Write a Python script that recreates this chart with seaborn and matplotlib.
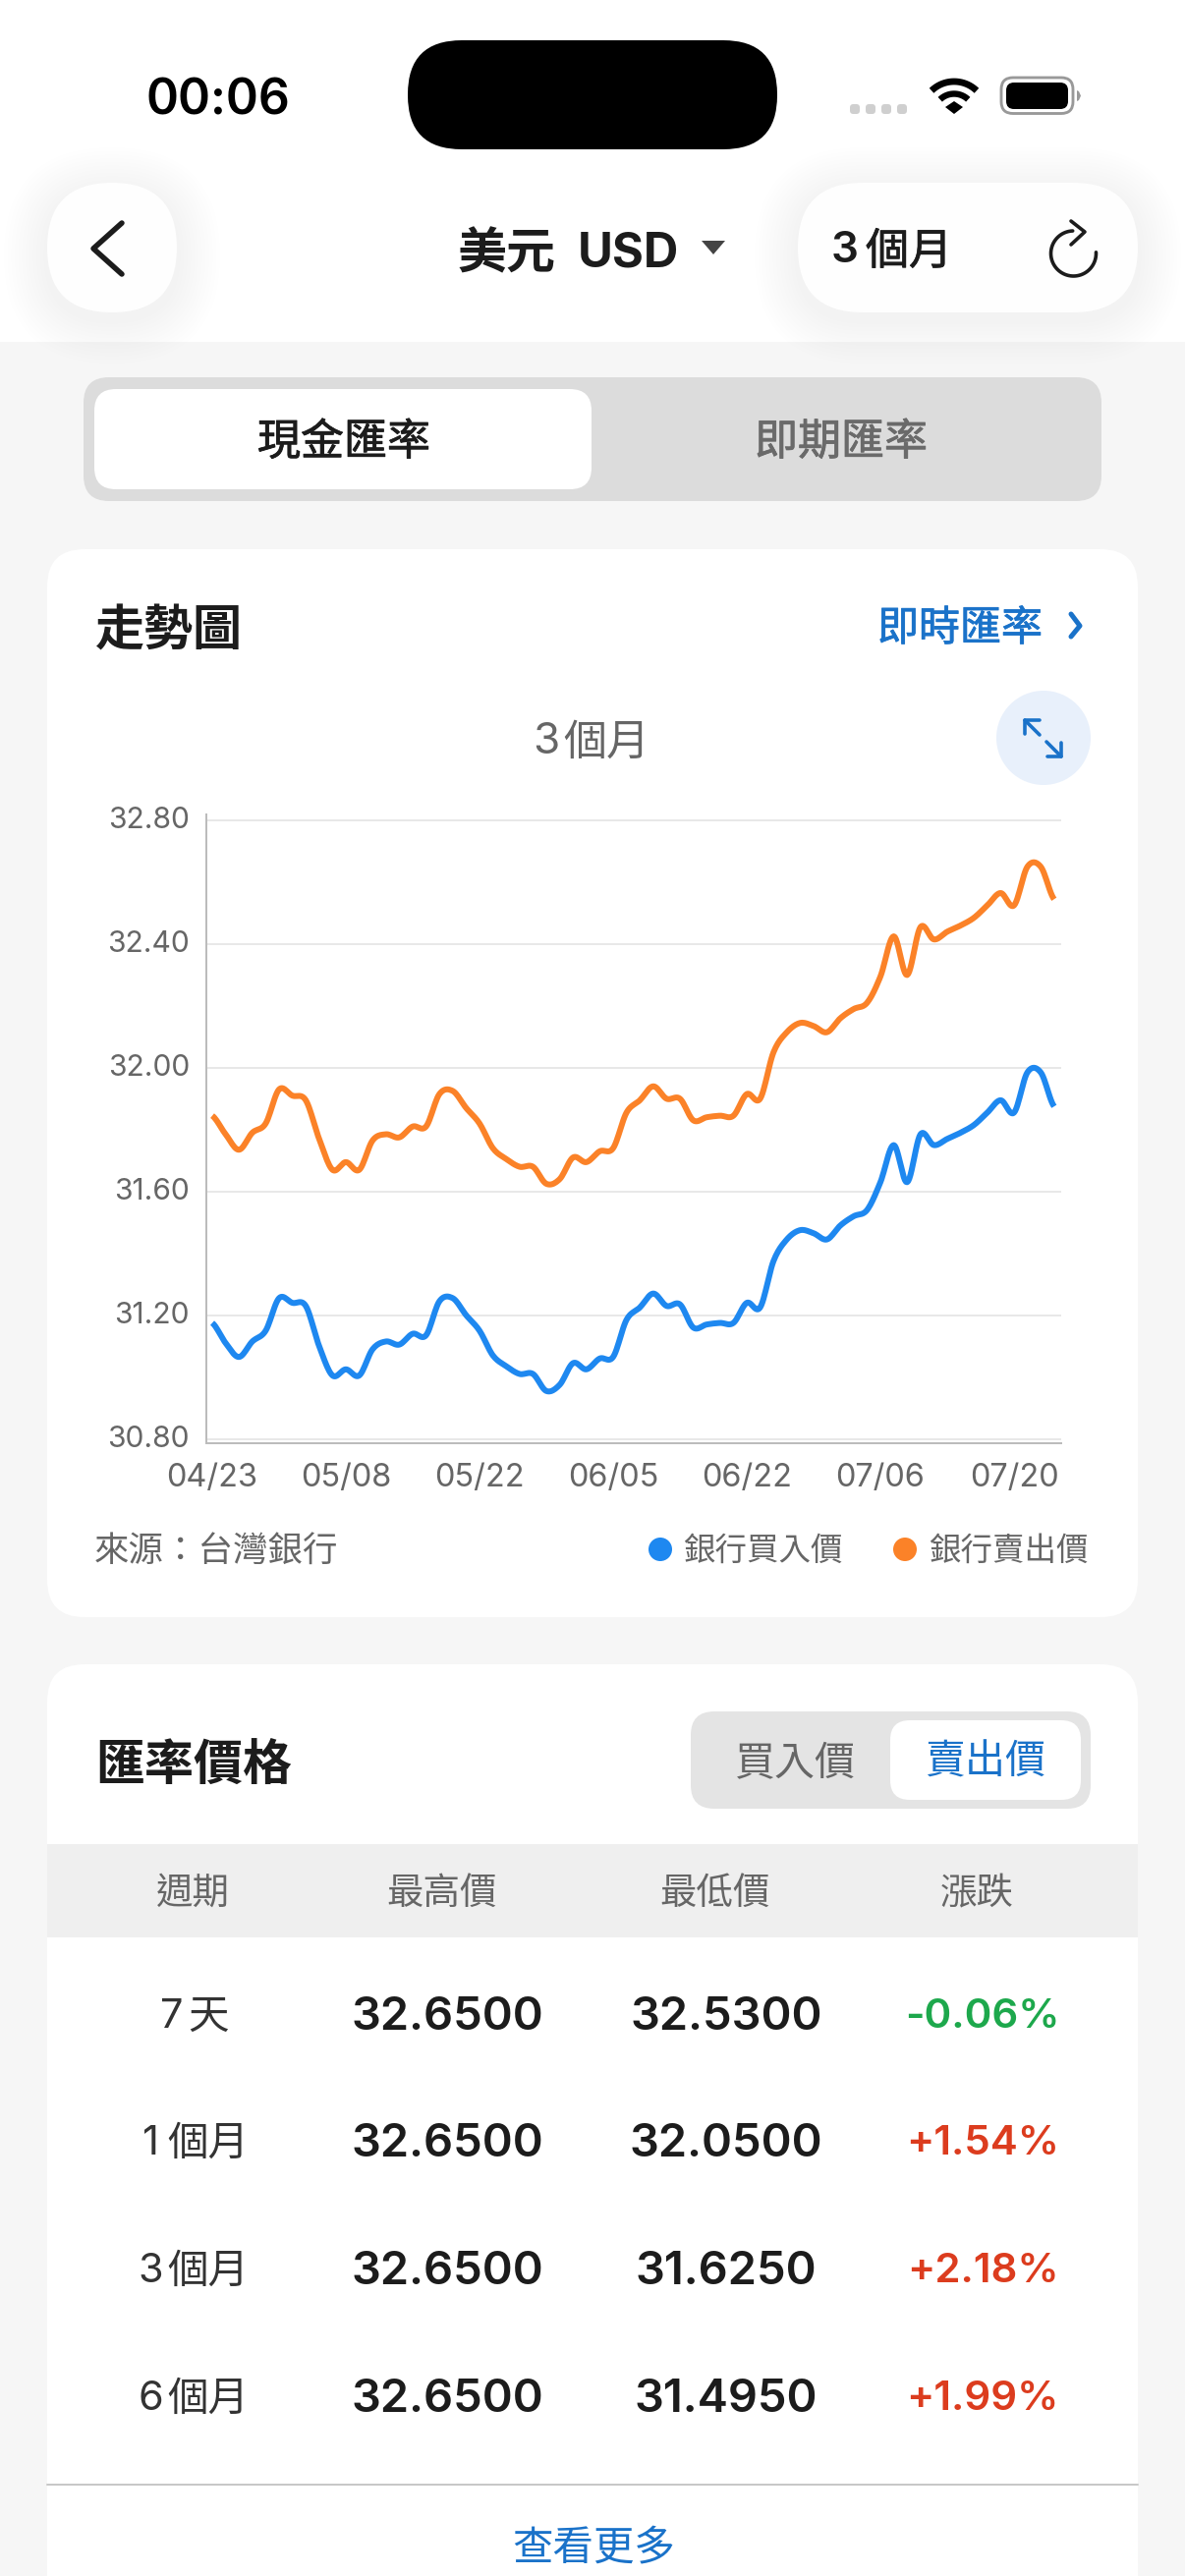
import numpy as np
import pandas as pd
import matplotlib
matplotlib.use("Agg")
import matplotlib.pyplot as plt
import matplotlib.patheffects as pe
from matplotlib.patches import FancyBboxPatch, Circle, Polygon, Rectangle
from matplotlib.ticker import FixedLocator, FixedFormatter
from matplotlib.transforms import ScaledTranslation
import seaborn as sns

# ---- data ----
buy_rate = [31.175, 31.11, 31.065, 31.115, 31.15, 31.255, 31.24, 31.23, 31.10, 31.005, 31.025, 31.005,
            31.09, 31.115, 31.105, 31.14, 31.135, 31.245, 31.255, 31.20, 31.15, 31.07, 31.035, 31.01,
            31.01, 30.955, 30.975, 31.045, 31.025, 31.06, 31.065, 31.185, 31.225, 31.27, 31.23, 31.235,
            31.16, 31.17, 31.175, 31.175, 31.24, 31.225, 31.375, 31.445, 31.475, 31.465, 31.445, 31.49,
            31.52, 31.54, 31.63, 31.75, 31.63, 31.785, 31.75, 31.77, 31.79, 31.815, 31.855, 31.895,
            31.855, 31.985, 31.985, 31.875]
sell_rate = [31.845, 31.785, 31.735, 31.79, 31.82, 31.93, 31.91, 31.895, 31.77, 31.67, 31.695, 31.67,
             31.765, 31.785, 31.775, 31.81, 31.81, 31.915, 31.925, 31.87, 31.82, 31.74, 31.705, 31.68,
             31.68, 31.625, 31.64, 31.71, 31.695, 31.73, 31.74, 31.855, 31.895, 31.94, 31.90, 31.90,
             31.83, 31.84, 31.845, 31.845, 31.915, 31.90, 32.05, 32.115, 32.145, 32.135, 32.115, 32.16,
             32.19, 32.21, 32.295, 32.425, 32.30, 32.455, 32.415, 32.44, 32.46, 32.485, 32.525, 32.565,
             32.525, 32.65, 32.65, 32.545]
x_tick_labels = ["04/23", "05/08", "05/22", "06/05", "06/22", "07/06", "07/20"]
y_ticks = [30.80, 31.20, 31.60, 32.00, 32.40, 32.80]
series_names = ["銀行買入價", "銀行賣出價"]
table_head = ["週期", "最高價", "最低價", "漲跌"]
table_period = ["7天", "1個月", "3個月", "6個月"]
table_high = ["32.6500", "32.6500", "32.6500", "32.6500"]
table_low = ["32.5300", "32.0500", "31.6250", "31.4950"]
table_change = ["-0.06%", "+1.54%", "+2.18%", "+1.99%"]

BLUE, ORANGE = "#1e88f0", "#fb8228"
LINK = "#1a72c9"
INK, GREY = "#1c1c1c", "#666666"
GREEN, RED = "#1da84c", "#dc3c1e"
CJK = ["Noto Sans CJK TC", "Inter", "DejaVu Sans"]
LATIN = ["Inter", "Noto Sans CJK TC", "DejaVu Sans"]

sns.set_theme(style="white")
plt.rcParams["font.family"] = LATIN

W, H = 1206, 2622
fig = plt.figure(figsize=(W / 100, H / 100), dpi=100, facecolor="#f6f6f6")
ui = fig.add_axes([0, 0, 1, 1], zorder=0)
ui.set_xlim(0, W)
ui.set_ylim(H, 0)
ui.axis("off")

PX = 72 / 100  # points per pixel at this dpi


def rbox(x0, y0, x1, y1, r, fc, z=1, **kw):
    p = FancyBboxPatch((x0 + r, y0 + r), x1 - x0 - 2 * r, y1 - y0 - 2 * r,
                       boxstyle=f"round,pad={r},rounding_size={r}", fc=fc, ec="none", zorder=z, **kw)
    ui.add_patch(p)
    return p


def shadow(x0, y0, x1, y1, r, dy=10, steps=12, spread=32, strength=0.0014):
    for k in range(steps):
        g = spread * (1 - k / steps)
        rbox(x0 - g, y0 - g + dy, x1 + g, y1 + g + dy, r + g, "#000000", z=0.5, alpha=strength)


def txt(x, y, s, size_px, color=INK, ha="center", weight="normal", fam=CJK, z=5):
    # Noto CJK is installed as regular and bold: "medium" thickens regular glyphs slightly
    effects = None
    if weight == "medium":
        weight = "normal"
        effects = [pe.withStroke(linewidth=0.8 * PX, foreground=color)]
    ui.text(x, y - 2, s, fontsize=size_px * PX, color=color, ha=ha, va="center_baseline",
            fontweight=weight, family=fam, zorder=z, path_effects=effects)


def digit_label(cx, y, s, size_px, color):
    """Digit followed by CJK characters, with the wider gap of the original."""
    d, rest = s[0], s[1:]
    dw, gap = 0.62 * size_px, 0.09 * size_px
    total = dw + gap + len(rest) * size_px
    left = cx - total / 2
    txt(left + dw / 2, y, d, size_px, color, fam=LATIN)
    txt(left + dw + gap, y, rest, size_px, color, ha="left")


def stroke(xs, ys, color=INK, lw_px=5, z=5):
    ui.plot(xs, ys, color=color, lw=lw_px * PX, solid_capstyle="round", solid_joinstyle="round", zorder=z)


# ---- header ----
ui.add_patch(Rectangle((0, 0), W, 348, fc="white", ec="none", zorder=0.2))
rbox(415, 41, 791, 152, 55, "black", z=3)
txt(222, 100, "00:06", 50, "black", weight="semibold", fam=LATIN)
for cx in (870, 886, 902, 918):
    rbox(cx - 5, 106, cx + 5, 116, 3.5, "#cfcfcf", z=3)
for r, lw in ((33, 6.8), (20.5, 6.4)):
    t = np.radians(np.linspace(-134, -46, 30))
    ui.plot(971 + r * np.cos(t), 116 + r * np.sin(t), color="black", lw=lw * PX, solid_capstyle="butt", zorder=5)
ui.add_patch(Polygon([[962, 109], [971, 103], [980, 109], [971, 116]], fc="black", ec="none", zorder=5))
rbox(1019, 79, 1092, 115.5, 12, "none", z=3).set(ec="#999999", lw=2.6 * PX * 1.1)
rbox(1024, 84, 1087, 111, 8, "black", z=4)
ui.add_patch(Polygon([[1096, 92], [1098, 93], [1100, 97.5], [1098, 102], [1096, 103]], fc="#999999", ec="none", zorder=3))

shadow(48, 186, 180, 318, 66, dy=8, spread=44, strength=0.0028)
shadow(812, 186, 1158, 318, 66, dy=8, spread=44, strength=0.0028)
rbox(48, 186, 180, 318, 66, "#fefefe", z=1)
rbox(812, 186, 1158, 318, 66, "#fefefe", z=1)
stroke([124, 95, 124], [227, 253, 279], INK, 5.5)
txt(466, 255, "美元", 50, INK, ha="left", weight="bold")
txt(588, 255, "USD", 49, INK, ha="left", weight="bold", fam=LATIN)
ui.add_patch(Polygon([[714, 245], [738, 245], [726, 259]], fc="#444444", ec="none", zorder=5))
txt(860, 253, "3", 44, INK, weight="semibold", fam=LATIN)
txt(881, 253, "個月", 44, INK, ha="left", weight="medium")
t = np.radians(np.linspace(-3, 268, 60))
stroke(1092.5 + 23 * np.cos(t), 258 + 23 * np.sin(t), INK, 3.6)
stroke([1090, 1104, 1090], [225, 236, 249], INK, 3.6)

# ---- segmented tabs ----
rbox(85, 384, 1121, 510, 26, "#dcdcdc")
rbox(96, 396, 602, 498, 22, "white", z=2)
txt(350, 447, "現金匯率", 44, INK, weight="medium")
txt(856, 447, "即期匯率", 44, "#6a6a6a", weight="medium")

# ---- card 1 ----
shadow(48, 559, 1158, 1646, 38)
rbox(48, 559, 1158, 1646, 38, "white")
txt(97, 640, "走勢圖", 50, INK, ha="left", weight="bold")
txt(893, 637, "即時匯率", 42, LINK, ha="left", weight="medium")
stroke([1090, 1099, 1090], [625, 637, 648], LINK, 5)
digit_label(602, 753, "3個月", 44, GREY)
ui.add_patch(Circle((1062, 751), 48, fc="#e8f0fb", ec="none", zorder=2))
stroke([1043, 1058], [733, 748], LINK, 3.6)
stroke([1043, 1043, 1058], [747, 733, 733], LINK, 3.6)
stroke([1065, 1080], [755, 770], LINK, 3.6)
stroke([1066, 1080, 1080], [769.5, 769.5, 756], LINK, 3.6)

txt(96, 1577, "來源：台灣銀行", 35.5, GREY, ha="left")
ui.add_patch(Circle((672, 1577), 12, fc=BLUE, ec="none", zorder=5))
txt(696, 1577, series_names[0], 32.5, GREY, ha="left")
ui.add_patch(Circle((921, 1577), 12, fc=ORANGE, ec="none", zorder=5))
txt(946, 1577, series_names[1], 32.5, GREY, ha="left")

# ---- card 2 ----
shadow(48, 1694, 1158, 2700, 38)
rbox(48, 1694, 1158, 2700, 38, "white")
txt(97, 1794, "匯率價格", 50, INK, ha="left", weight="bold")
rbox(703, 1742, 1110, 1841, 24, "#e4e4e4")
rbox(906, 1751, 1100, 1832, 20, "white", z=2)
txt(809, 1792, "買入價", 41, GREY)
txt(1003, 1792, "賣出價", 41, LINK)
ui.add_patch(Rectangle((48, 1877), 1110, 95, fc="#efefef", ec="none", zorder=2))
for cx, s in zip((196.5, 450, 728, 994), table_head):
    txt(cx, 1925, s, 37.5, GREY)
for ry, per, hi, lo, ch in zip((2051, 2180, 2310, 2440), table_period, table_high, table_low, table_change):
    digit_label(197, ry, per, 41.5, "#333333")
    txt(455, ry, hi, 47, INK, weight="semibold", fam=LATIN)
    txt(739, ry, lo, 47, INK, weight="semibold", fam=LATIN)
    txt(1000, ry, ch, 42, RED if ch.startswith("+") else GREEN, weight="semibold", fam=LATIN)
ui.plot([48, 1158], [2529, 2529], color="#c8c8c8", lw=2 * PX, zorder=3)
txt(604, 2591, "查看更多", 41.5, LINK)


# ---- line chart ----
def smooth(values, per_step=12):
    """Catmull-Rom curve through the read values, as the original draws its line."""
    v = np.asarray(values, float)
    p = np.r_[v[0], v, v[-1]]
    u = np.linspace(0, 1, per_step, endpoint=False)[:, None]
    p0, p1, p2, p3 = p[:-3], p[1:-2], p[2:-1], p[3:]
    c = 0.5 * (2 * p1 + (p2 - p0) * u + (2 * p0 - 5 * p1 + 4 * p2 - p3) * u ** 2
               + (3 * p1 - p0 - 3 * p2 + p3) * u ** 3)
    return np.r_[c.T.ravel(), v[-1]], np.r_[(np.arange(len(v) - 1)[:, None] + u.T).ravel(), len(v) - 1]


ax_x0, ax_x1, ax_top, ax_bot = 210, 1080, 829, 1469
ax = fig.add_axes([ax_x0 / W, 1 - ax_bot / H, (ax_x1 - ax_x0) / W, (ax_bot - ax_top) / H], zorder=4)
ax.patch.set_alpha(0)

frames = []
for name, vals in zip(series_names, (buy_rate, sell_rate)):
    yy, xx = smooth(vals)
    frames.append(pd.DataFrame({"idx": xx, "rate": yy, "series": name}))
long_df = pd.concat(frames, ignore_index=True)
sns.lineplot(data=long_df, x="idx", y="rate", hue="series", hue_order=series_names,
             palette=[BLUE, ORANGE], lw=6 * PX, ax=ax, legend=False, sort=False, errorbar=None,
             solid_capstyle="butt")

# one data step is 13.6 px; first point sits 6 px right of the axis
step_px = 13.6
ax.set_xlim(-6 / step_px, (ax_x1 - ax_x0 - 6) / step_px)
ax.set_ylim(30.80 - 4.4 / 315, 32.80 + 6 / 315)
ax.xaxis.set_major_locator(FixedLocator(np.arange(len(x_tick_labels)) * 10))
ax.xaxis.set_major_formatter(FixedFormatter(x_tick_labels))
ax.yaxis.set_major_locator(FixedLocator(y_ticks))
ax.yaxis.set_major_formatter(FixedFormatter([f"{v:.2f}" for v in y_ticks]))
ax.set_xlabel("")
ax.set_ylabel("")
ax.grid(axis="y", color="#e8e8e8", lw=2 * PX)
ax.grid(axis="x", visible=False)
ax.set_axisbelow(True)
for s in ("top", "right"):
    ax.spines[s].set_visible(False)
for s in ("left", "bottom"):
    ax.spines[s].set_color("#bcbcbc")
    ax.spines[s].set_linewidth(2 * PX)
ax.tick_params(axis="y", length=0, labelcolor=GREY, labelsize=30 * PX, pad=17 * PX)
ax.tick_params(axis="x", length=0, labelcolor=GREY, labelsize=32.5 * PX, pad=20 * PX)
lift = ScaledTranslation(0, 3 / 100, fig.dpi_scale_trans)
for lab in ax.get_yticklabels():
    lab.set_transform(lab.get_transform() + lift)

fig.savefig("out.png", dpi=100, facecolor=fig.get_facecolor())
